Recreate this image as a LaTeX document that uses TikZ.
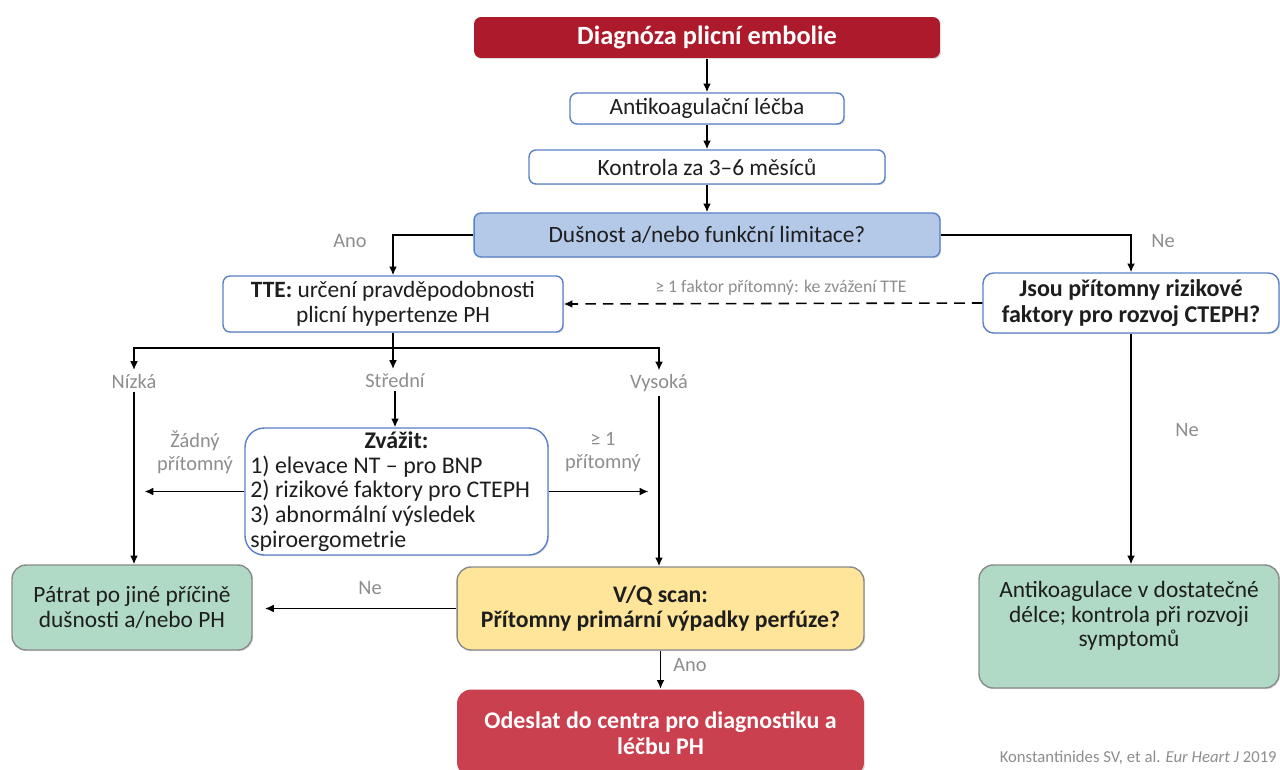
\documentclass[tikz,border=0pt]{standalone}
\usepackage{fontspec}
\setmainfont{Carlito}
\usetikzlibrary{positioning,arrows.meta,shadows}
\definecolor{tmavocervena}{HTML}{AD1A2C}
\definecolor{cervena}{HTML}{CB404F}
\definecolor{modra}{HTML}{5A80C8}
\definecolor{svetlemodra}{HTML}{B4C8E8}
\definecolor{zelena}{HTML}{B0D9C6}
\definecolor{zluta}{HTML}{FFE59A}
\definecolor{seda}{HTML}{8E8E8E}
\definecolor{okraj}{HTML}{8A8A8A}
\definecolor{pismo}{HTML}{1E1E1E}
\tikzstyle{stin} = [drop shadow={opacity=0.25, shadow xshift=0.7pt, shadow yshift=-0.7pt}]
\tikzstyle{krok} = [draw=modra, fill=white, line width=0.8pt, rectangle, rounded corners=4pt, align=center, text=pismo, inner sep=2pt, font=\fontsize{13.3}{14}\selectfont, stin]
\tikzstyle{otazka} = [krok, fill=svetlemodra]
\tikzstyle{nadpis} = [krok, draw=none, fill=tmavocervena, text=white, font=\fontsize{15}{17}\selectfont\bfseries]
\tikzstyle{odeslat} = [krok, draw=none, fill=cervena, text=white, rounded corners=8pt, font=\fontsize{13.6}{15}\selectfont\bfseries]
\tikzstyle{vysledek} = [krok, draw=okraj, fill=zelena, rounded corners=8pt]
\tikzstyle{sken} = [krok, draw=okraj, fill=zluta, rounded corners=8pt, font=\fontsize{13.5}{14.5}\selectfont\bfseries]
\tikzstyle{zvazitbox} = [krok, rounded corners=11pt, align=flush left, text width=5.85cm, inner xsep=3pt, inner ysep=2pt, font=\fontsize{13.6}{14}\selectfont]
\tikzstyle{popis} = [text=seda, font=\fontsize{11.6}{13}\selectfont, inner sep=2pt]
\tikzstyle{zdroj} = [text=seda, font=\fontsize{9.5}{11}\selectfont, inner sep=0pt]
\tikzstyle{sipka} = [-{Latex[length=5pt,width=4.5pt]}, line width=0.9pt, draw=black]
\tikzstyle{cara} = [line width=0.9pt, draw=black]

\begin{document}
\begin{tikzpicture}[x=0.02cm, y=-0.02cm]
	\clip (0,0) rectangle (1280,770);
	\fill[white] (0,0) rectangle (1280,770);
	\node[nadpis, minimum width=9.32cm, minimum height=0.82cm] (diagnoza) at (707,37.5) {Diagnóza plicní embolie};
	\node[krok, minimum width=5.48cm, minimum height=0.62cm] (lecba) at (707,108.5) {Antikoagulační léčba};
	\node[krok, minimum width=7.12cm, minimum height=0.68cm] (kontrola) at (707,167) {Kontrola za 3–6 měsíců};
	\node[otazka, minimum width=9.32cm, minimum height=0.88cm] (dusnost) at (707,235) {Dušnost a/nebo funkční limitace?};
	\node[krok, minimum width=6.8cm, minimum height=1.12cm] (tte) at (393,304) {\textbf{TTE:} určení pravděpodobnosti\\plicní hypertenze PH};
	\node[krok, rounded corners=6pt, minimum width=5.92cm, minimum height=1.2cm, font=\fontsize{13.7}{14.5}\selectfont\bfseries] (rizika) at (1131,303) {Jsou přítomny rizikové\\faktory pro rozvoj CTEPH?};
	\node[zvazitbox, minimum height=2.54cm] (zvazit) at (396.5,491.5) {\makebox[5.85cm]{\textbf{Zvážit:}}\\1) elevace NT – pro BNP\\2) rizikové faktory pro CTEPH\\3) abnormální výsledek\\spiroergometrie};
	\node[vysledek, minimum width=4.8cm, minimum height=1.7cm] (patrat) at (132,607.5) {Pátrat po jiné příčině\\dušnosti a/nebo PH};
	\node[sken, minimum width=8.14cm, minimum height=1.66cm] (vq) at (660.5,608.5) {V/Q scan:\\Přítomny primární výpadky perfúze?};
	\node[odeslat, minimum width=8.14cm, minimum height=1.74cm] (odeslat) at (660.5,733) {Odeslat do centra pro diagnostiku a\\léčbu PH};
	\node[vysledek, minimum width=6cm, minimum height=2.46cm] (dostatecna) at (1129,626.5) {Antikoagulace v dostatečné\\délce; kontrola při rozvoji\\symptomů\\\mbox{}};

	\node[popis] (ano1) at (350,241) {Ano};
	\node[popis] (ne1) at (1163,241) {Ne};
	\node[popis, font=\fontsize{10.1}{12}\selectfont] (faktor) at (781,288) {≥ 1 faktor přítomný: ke zvážení TTE};
	\node[popis] (nizka) at (134,381) {Nízká};
	\node[popis] (stredni) at (395,380) {Střední};
	\node[popis] (vysoka) at (659,383) {Vysoká};
	\node[popis, align=center] (zadny) at (195,452) {Žádný\\přítomný};
	\node[popis, align=center] (jeden) at (603,452) {≥ 1\\přítomný};
	\node[popis] (ne2) at (370,588) {Ne};
	\node[popis] (ano2) at (690,665) {Ano};
	\node[popis] (ne3) at (1187,430) {Ne};
	\node[zdroj, anchor=east] (zdroj) at (1277,758) {Konstantinides SV, et al. \textit{Eur Heart J} 2019};

	\coordinate (rozcesti) at (393,348);
	\draw[sipka] (diagnoza) -- (lecba);
	\draw[sipka] (lecba) -- (kontrola);
	\draw[sipka] (kontrola) -- (dusnost);
	\draw[sipka] (dusnost.west) -| (tte.north);
	\draw[sipka] (dusnost.east) -| (rizika.north);
	\draw[sipka, dash pattern=on 6pt off 4pt] (rizika.west) -- (tte.east);
	\draw[cara] (tte.south) -- (rozcesti);
	\draw[sipka] (rozcesti) -| (nizka.north);
	\draw[sipka] (rozcesti) -- (rozcesti |- stredni.north);
	\draw[sipka] (rozcesti) -| (vysoka.north);
	\draw[sipka] (stredni.south) -- (stredni.south |- zvazit.north);
	\draw[sipka] (nizka.south) -- (nizka.south |- patrat.north);
	\draw[sipka] (vysoka.south) -- (vysoka.south |- vq.north);
	\draw[sipka, shorten >=6pt] (zvazit.west) -- (zvazit.west -| nizka.south);
	\draw[sipka, shorten >=6pt] (zvazit.east) -- (zvazit.east -| vysoka.south);
	\draw[sipka, shorten >=7pt] (vq.west) -- (vq.west -| patrat.east);
	\draw[sipka] (vq) -- (odeslat);
	\draw[sipka] (rizika.south) -- (rizika.south |- dostatecna.north);
\end{tikzpicture}
\end{document}
